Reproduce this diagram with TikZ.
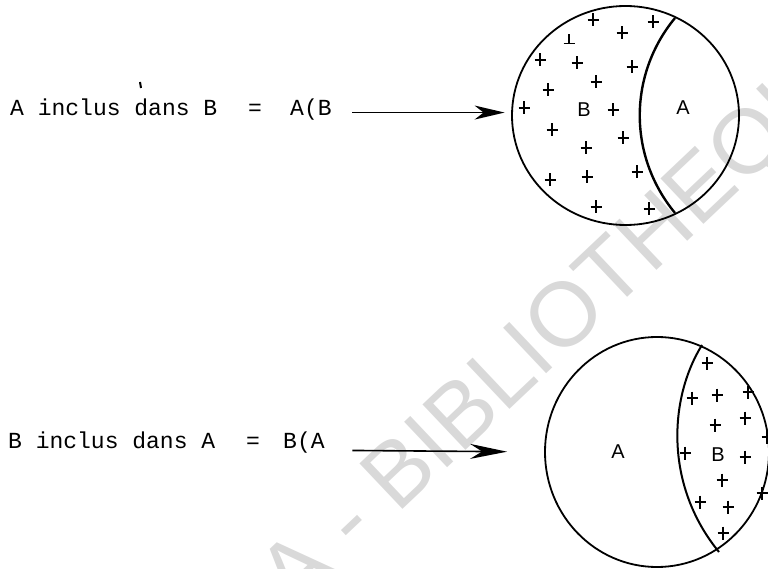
\documentclass[tikz,border=0pt]{standalone}
\usepackage{fontspec}
\setmainfont{Liberation Sans}
\newfontfamily\twfont{Liberation Mono}
\usetikzlibrary{arrows.meta,shapes.geometric}
\begin{document}
\begin{tikzpicture}[x=1pt,y=-1pt,
  txt/.style={font=\twfont\fontsize{23}{23}\selectfont, inner sep=0pt, anchor=base west},
  lbl/.style={font=\fontsize{20}{20}\selectfont, inner sep=0pt},
  setc/.style={draw, ellipse, line width=1.8pt, inner sep=0pt},
  divide/.style={line width=2.4pt},
  arrA/.style={line width=1.6pt, -{Stealth[length=30pt,width=14pt,inset=9pt]}},
  arrB/.style={line width=1.6pt, -{Stealth[length=37pt,width=15pt,inset=12pt]}},
  plusmark/.pic={\draw[line width=1.6pt] (-5.5,0)--(5.5,0) (0,-6.5)--(0,6.5);},
  perpmark/.pic={\draw[line width=1.6pt] (-5.5,3.5)--(5.5,3.5) (0,-5.5)--(0,3.5);}
]
\useasboundingbox (0,0) rectangle (768,569);
\begin{scope}
\clip (0,0) rectangle (768,569);
\node[rotate=43.4, text=black!15, font=\fontsize{91}{91}\selectfont, inner sep=0pt] (wm) at (424,458) {CODESRIA - BIBLIOTHEQUE};
\end{scope}

% ---- top row ----
\node[txt] (t1) at (10,116) {A inclus dans B};
\node[txt] (eq1) at (248,116) {=};
\node[txt] (tAB) at (290,116) {A(B};
\draw[line width=2pt] (140,82) -- (141,88);

\node[setc, minimum width=227pt, minimum height=219pt] (c1) at (625.5,115.5) {};
\draw[divide] (675,18) .. controls (628,75) and (628,156) .. (675,213);
\node[lbl] (B1) at (584,110) {B};
\node[lbl] (A1) at (683,108) {A};

\coordinate (a1s) at ([xshift=20.6pt,yshift=-2.5pt]tAB.east);
\draw[arrA, shorten >=6.5pt] (a1s) -- (a1s -| c1.west);

\foreach \p in {(593,20),(653,22),(622,33),(540,60),(577,63),(632,67),(596,82),(548,90),(524,108),(613,110),(552,130),(623,138),(586,148),(637,172),(550,180),(587,177),(596,207),(649,209)}
  \pic at \p {plusmark};
\pic at (569,40) {perpmark};

% ---- bottom row ----
\node[txt] (t2) at (8,448) {B inclus dans A};
\node[txt] (eq2) at (246,448) {=};
\node[txt] (tBA) at (283,448) {B(A};

\node[setc, minimum width=224pt, minimum height=230pt] (c2) at (657,452) {};
\draw[divide, line width=2pt] (702,345) .. controls (669,398) and (664,485) .. (719,552);
\node[lbl] (A2) at (618,452) {A};
\node[lbl] (B2) at (718,455) {B};

\coordinate (a2s) at ([xshift=27.6pt,yshift=-8.4pt]tBA.east);
\draw[arrB, shorten >=37pt] (a2s) -- (c2.west);

\foreach \p in {(707,363),(692,398),(717,395),(748,392),(715,425),(745,418),(767,437),(685,453),(745,457),(722,480),(762,493),(700,502),(728,507),(723,533)}
  \pic at \p {plusmark};
\end{tikzpicture}
\end{document}
